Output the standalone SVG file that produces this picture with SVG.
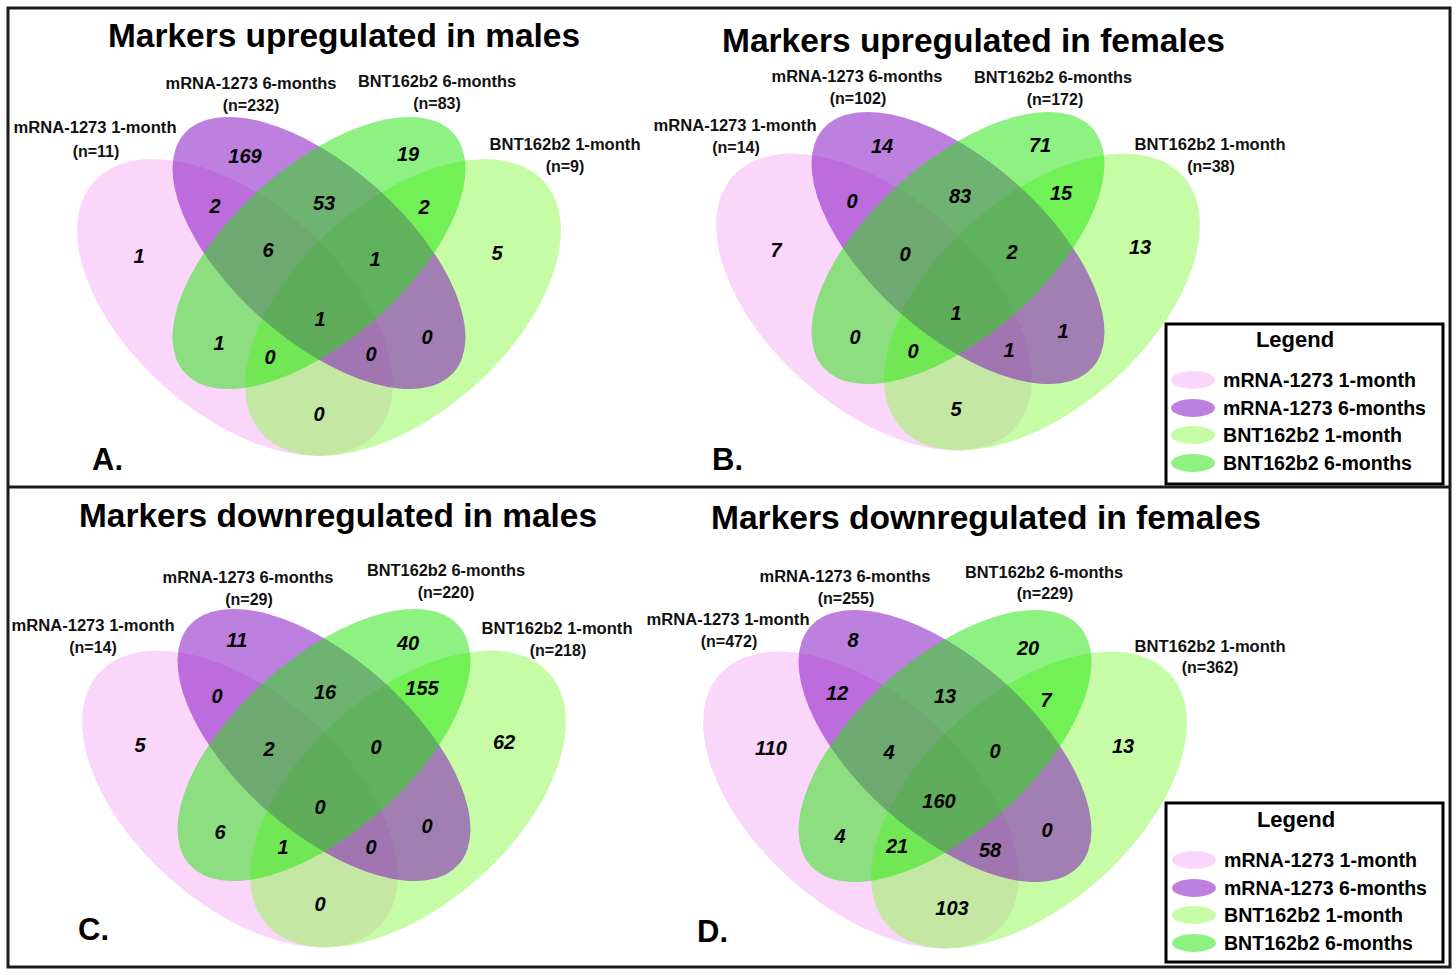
<svg xmlns="http://www.w3.org/2000/svg" width="1456" height="975" viewBox="0 0 1456 975">
<style>
.bg{fill:#ffffff}
.frame{fill:none;stroke:#1a1a1a;stroke-width:3}
.lbox{fill:#ffffff;stroke:#000000;stroke-width:3}
.e1{fill:#f5adf5;fill-opacity:0.5}
.e2{fill:#7d02bd;fill-opacity:0.5}
.e3{fill:#8df94d;fill-opacity:0.5}
.e4{fill:#1de505;fill-opacity:0.5}
.title{font-family:"Liberation Sans",Arial,sans-serif;font-weight:bold;font-size:33px;fill:#000}
.plabel{font-family:"Liberation Sans",Arial,sans-serif;font-weight:bold;font-size:31px;fill:#000}
.set{font-family:"Liberation Sans",Arial,sans-serif;font-weight:bold;font-size:16px;fill:#111;text-anchor:middle}
.num{font-family:"Liberation Sans",Arial,sans-serif;font-weight:bold;font-style:italic;font-size:20px;fill:#000;text-anchor:middle}
.lt{font-family:"Liberation Sans",Arial,sans-serif;font-weight:bold;font-size:22px;fill:#000;text-anchor:middle}
.li{font-family:"Liberation Sans",Arial,sans-serif;font-weight:bold;font-size:19.5px;fill:#000}
</style>
<rect class="bg" x="0" y="0" width="1456" height="975"/>

<!-- Panel A -->
<g id="panelA">
  <g id="A-sets">
    <ellipse id="A-m1" class="e1" cx="0" cy="0" rx="189" ry="106" transform="translate(235,307.5) rotate(41.6)"/>
    <ellipse id="A-b1" class="e3" cx="0" cy="0" rx="189" ry="106" transform="translate(403,307.5) rotate(-41.6)"/>
    <ellipse id="A-m6" class="e2" cx="0" cy="0" rx="180" ry="87" transform="translate(319,253) rotate(41.6)"/>
    <ellipse id="A-b6" class="e4" cx="0" cy="0" rx="180" ry="87" transform="translate(319,253) rotate(-41.6)"/>
  </g>
  <text class="title" x="108" y="47" textLength="472" lengthAdjust="spacingAndGlyphs">Markers upregulated in males</text>
  <text class="plabel" x="92" y="470">A.</text>
  <text class="set" x="95" y="133" textLength="163" lengthAdjust="spacingAndGlyphs">mRNA-1273 1-month</text>
  <text class="set" x="96" y="157">(n=11)</text>
  <text class="set" x="251" y="89" textLength="171" lengthAdjust="spacingAndGlyphs">mRNA-1273 6-months</text>
  <text class="set" x="251" y="111">(n=232)</text>
  <text class="set" x="437" y="87" textLength="158" lengthAdjust="spacingAndGlyphs">BNT162b2 6-months</text>
  <text class="set" x="437" y="109">(n=83)</text>
  <text class="set" x="565" y="150" textLength="151" lengthAdjust="spacingAndGlyphs">BNT162b2 1-month</text>
  <text class="set" x="565" y="172">(n=9)</text>
  <g id="A-counts">
    <text class="num" x="245" y="163">169</text>
    <text class="num" x="408" y="161">19</text>
    <text class="num" x="215" y="213">2</text>
    <text class="num" x="324" y="210">53</text>
    <text class="num" x="424" y="214">2</text>
    <text class="num" x="139" y="263">1</text>
    <text class="num" x="268" y="257">6</text>
    <text class="num" x="375" y="266">1</text>
    <text class="num" x="497" y="260">5</text>
    <text class="num" x="320" y="326">1</text>
    <text class="num" x="219" y="350">1</text>
    <text class="num" x="270" y="364">0</text>
    <text class="num" x="371" y="361">0</text>
    <text class="num" x="427" y="344">0</text>
    <text class="num" x="319" y="421">0</text>
  </g>
</g>

<!-- Panel B -->
<g id="panelB">
  <g id="B-sets">
    <ellipse id="B-m1" class="e1" cx="0" cy="0" rx="189" ry="106" transform="translate(874,302) rotate(41.6)"/>
    <ellipse id="B-b1" class="e3" cx="0" cy="0" rx="189" ry="106" transform="translate(1042,302) rotate(-41.6)"/>
    <ellipse id="B-m6" class="e2" cx="0" cy="0" rx="180" ry="87" transform="translate(958,248) rotate(41.6)"/>
    <ellipse id="B-b6" class="e4" cx="0" cy="0" rx="180" ry="87" transform="translate(958,248) rotate(-41.6)"/>
  </g>
  <text class="title" x="722" y="52" textLength="503" lengthAdjust="spacingAndGlyphs">Markers upregulated in females</text>
  <text class="plabel" x="712" y="470">B.</text>
  <text class="set" x="735" y="131" textLength="163" lengthAdjust="spacingAndGlyphs">mRNA-1273 1-month</text>
  <text class="set" x="736" y="153">(n=14)</text>
  <text class="set" x="857" y="82" textLength="171" lengthAdjust="spacingAndGlyphs">mRNA-1273 6-months</text>
  <text class="set" x="858" y="104">(n=102)</text>
  <text class="set" x="1053" y="83" textLength="158" lengthAdjust="spacingAndGlyphs">BNT162b2 6-months</text>
  <text class="set" x="1055" y="105">(n=172)</text>
  <text class="set" x="1210" y="150" textLength="151" lengthAdjust="spacingAndGlyphs">BNT162b2 1-month</text>
  <text class="set" x="1211" y="172">(n=38)</text>
  <g id="B-counts">
    <text class="num" x="882" y="153">14</text>
    <text class="num" x="1040" y="152">71</text>
    <text class="num" x="852" y="208">0</text>
    <text class="num" x="960" y="203">83</text>
    <text class="num" x="1061" y="200">15</text>
    <text class="num" x="776" y="257">7</text>
    <text class="num" x="905" y="261">0</text>
    <text class="num" x="1012" y="259">2</text>
    <text class="num" x="1140" y="254">13</text>
    <text class="num" x="956" y="320">1</text>
    <text class="num" x="855" y="344">0</text>
    <text class="num" x="913" y="358">0</text>
    <text class="num" x="1009" y="357">1</text>
    <text class="num" x="1063" y="338">1</text>
    <text class="num" x="956" y="416">5</text>
  </g>
</g>

<!-- Panel C -->
<g id="panelC">
  <g id="C-sets">
    <ellipse id="C-m1" class="e1" cx="0" cy="0" rx="189" ry="106" transform="translate(240,799) rotate(41.6)"/>
    <ellipse id="C-b1" class="e3" cx="0" cy="0" rx="189" ry="106" transform="translate(408,799) rotate(-41.6)"/>
    <ellipse id="C-m6" class="e2" cx="0" cy="0" rx="180" ry="87" transform="translate(324,745) rotate(41.6)"/>
    <ellipse id="C-b6" class="e4" cx="0" cy="0" rx="180" ry="87" transform="translate(324,745) rotate(-41.6)"/>
  </g>
  <text class="title" x="79" y="527" textLength="518" lengthAdjust="spacingAndGlyphs">Markers downregulated in males</text>
  <text class="plabel" x="78" y="940">C.</text>
  <text class="set" x="93" y="631" textLength="163" lengthAdjust="spacingAndGlyphs">mRNA-1273 1-month</text>
  <text class="set" x="93" y="653">(n=14)</text>
  <text class="set" x="248" y="583" textLength="171" lengthAdjust="spacingAndGlyphs">mRNA-1273 6-months</text>
  <text class="set" x="249" y="605">(n=29)</text>
  <text class="set" x="446" y="576" textLength="158" lengthAdjust="spacingAndGlyphs">BNT162b2 6-months</text>
  <text class="set" x="446" y="598">(n=220)</text>
  <text class="set" x="557" y="634" textLength="151" lengthAdjust="spacingAndGlyphs">BNT162b2 1-month</text>
  <text class="set" x="558" y="656">(n=218)</text>
  <g id="C-counts">
    <text class="num" x="237" y="647">11</text>
    <text class="num" x="408" y="650">40</text>
    <text class="num" x="217" y="703">0</text>
    <text class="num" x="325" y="699">16</text>
    <text class="num" x="422" y="695">155</text>
    <text class="num" x="140" y="752">5</text>
    <text class="num" x="269" y="756">2</text>
    <text class="num" x="376" y="754">0</text>
    <text class="num" x="504" y="749">62</text>
    <text class="num" x="320" y="814">0</text>
    <text class="num" x="220" y="839">6</text>
    <text class="num" x="283" y="854">1</text>
    <text class="num" x="371" y="854">0</text>
    <text class="num" x="427" y="833">0</text>
    <text class="num" x="320" y="911">0</text>
  </g>
</g>

<!-- Panel D -->
<g id="panelD">
  <g id="D-sets">
    <ellipse id="D-m1" class="e1" cx="0" cy="0" rx="189" ry="106" transform="translate(861,800) rotate(41.6)"/>
    <ellipse id="D-b1" class="e3" cx="0" cy="0" rx="189" ry="106" transform="translate(1029,800) rotate(-41.6)"/>
    <ellipse id="D-m6" class="e2" cx="0" cy="0" rx="180" ry="87" transform="translate(945,746) rotate(41.6)"/>
    <ellipse id="D-b6" class="e4" cx="0" cy="0" rx="180" ry="87" transform="translate(945,746) rotate(-41.6)"/>
  </g>
  <text class="title" x="711" y="529" textLength="550" lengthAdjust="spacingAndGlyphs">Markers downregulated in females</text>
  <text class="plabel" x="697" y="942">D.</text>
  <text class="set" x="728" y="625" textLength="163" lengthAdjust="spacingAndGlyphs">mRNA-1273 1-month</text>
  <text class="set" x="729" y="647">(n=472)</text>
  <text class="set" x="845" y="582" textLength="171" lengthAdjust="spacingAndGlyphs">mRNA-1273 6-months</text>
  <text class="set" x="846" y="604">(n=255)</text>
  <text class="set" x="1044" y="578" textLength="158" lengthAdjust="spacingAndGlyphs">BNT162b2 6-months</text>
  <text class="set" x="1045" y="599">(n=229)</text>
  <text class="set" x="1210" y="652" textLength="151" lengthAdjust="spacingAndGlyphs">BNT162b2 1-month</text>
  <text class="set" x="1210" y="673">(n=362)</text>
  <g id="D-counts">
    <text class="num" x="853" y="647">8</text>
    <text class="num" x="1028" y="655">20</text>
    <text class="num" x="837" y="700">12</text>
    <text class="num" x="945" y="703">13</text>
    <text class="num" x="1046" y="707">7</text>
    <text class="num" x="771" y="755">110</text>
    <text class="num" x="889" y="759">4</text>
    <text class="num" x="995" y="758">0</text>
    <text class="num" x="1123" y="753">13</text>
    <text class="num" x="939" y="808">160</text>
    <text class="num" x="840" y="843">4</text>
    <text class="num" x="897" y="853">21</text>
    <text class="num" x="990" y="857">58</text>
    <text class="num" x="1047" y="837">0</text>
    <text class="num" x="952" y="915">103</text>
  </g>
</g>

<!-- Legend 1 -->
<g id="legend1">
  <rect class="lbox" x="1166" y="324" width="277" height="160"/>
  <text class="lt" x="1295" y="347">Legend</text>
  <ellipse class="e1" cx="1193" cy="380" rx="22" ry="9"/>
  <ellipse class="e2" cx="1193" cy="408" rx="22" ry="9"/>
  <ellipse class="e3" cx="1193" cy="435" rx="22" ry="9"/>
  <ellipse class="e4" cx="1193" cy="463" rx="22" ry="9"/>
  <text class="li" x="1223" y="387" textLength="193" lengthAdjust="spacingAndGlyphs">mRNA-1273 1-month</text>
  <text class="li" x="1223" y="415" textLength="203" lengthAdjust="spacingAndGlyphs">mRNA-1273 6-months</text>
  <text class="li" x="1223" y="442" textLength="179" lengthAdjust="spacingAndGlyphs">BNT162b2 1-month</text>
  <text class="li" x="1223" y="470" textLength="189" lengthAdjust="spacingAndGlyphs">BNT162b2 6-months</text>
</g>

<!-- Legend 2 -->
<g id="legend2">
  <rect class="lbox" x="1166" y="803" width="277" height="159"/>
  <text class="lt" x="1296" y="827">Legend</text>
  <ellipse class="e1" cx="1194" cy="860" rx="22" ry="9"/>
  <ellipse class="e2" cx="1194" cy="888" rx="22" ry="9"/>
  <ellipse class="e3" cx="1194" cy="915" rx="22" ry="9"/>
  <ellipse class="e4" cx="1194" cy="943" rx="22" ry="9"/>
  <text class="li" x="1224" y="867" textLength="193" lengthAdjust="spacingAndGlyphs">mRNA-1273 1-month</text>
  <text class="li" x="1224" y="895" textLength="203" lengthAdjust="spacingAndGlyphs">mRNA-1273 6-months</text>
  <text class="li" x="1224" y="922" textLength="179" lengthAdjust="spacingAndGlyphs">BNT162b2 1-month</text>
  <text class="li" x="1224" y="950" textLength="189" lengthAdjust="spacingAndGlyphs">BNT162b2 6-months</text>
</g>

<!-- Frame -->
<g id="frame">
  <rect class="frame" x="8" y="8" width="1442" height="959"/>
  <line class="frame" x1="8" y1="487" x2="1450" y2="487"/>
</g>
</svg>
